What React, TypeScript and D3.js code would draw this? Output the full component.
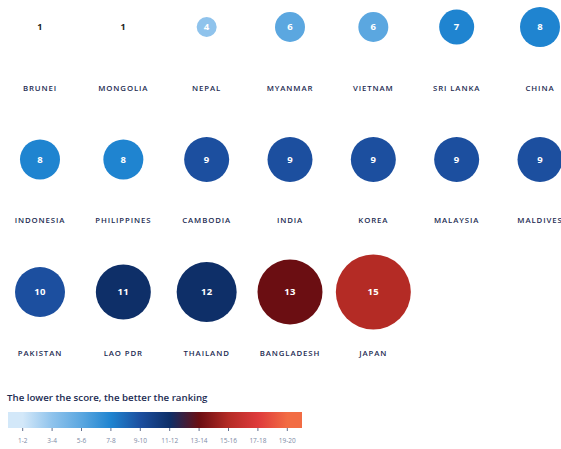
import * as d3 from "d3";

const countries = [
  "BRUNEI", "MONGOLIA", "NEPAL", "MYANMAR", "VIETNAM", "SRI LANKA", "CHINA",
  "INDONESIA", "PHILIPPINES", "CAMBODIA", "INDIA", "KOREA", "MALAYSIA", "MALDIVES",
  "PAKISTAN", "LAO PDR", "THAILAND", "BANGLADESH", "JAPAN",
];
const scores = [1, 1, 4, 6, 6, 7, 8, 8, 8, 9, 9, 9, 9, 9, 10, 11, 12, 13, 15];

const binLabels = ["1-2", "3-4", "5-6", "7-8", "9-10", "11-12", "13-14", "15-16", "17-18", "19-20"];
const binColors = [
  "#d3e8f9", "#8fc3ec", "#5ba7e0", "#1f84d0", "#1c4f9f",
  "#0e2f68", "#6b0e12", "#b42b25", "#de3a3b", "#f26c44",
];
const binEdges = [3, 5, 7, 9, 11, 13, 15, 17, 19];

const title = "The lower the score, the better the ranking";

export default function App() {
  const width = 561;
  const height = 449;
  const perRow = 7;

  const col = d3.scaleLinear().domain([0, perRow - 1]).range([40, 540]);
  const rowLabel = d3.scaleLinear().domain([0, 2]).range([88, 353]);
  const r = d3.scaleLinear().domain([0, 15]).range([0, 37.5]);
  const color = d3.scaleThreshold<number, string>().domain(binEdges).range(binColors);

  const legendX = d3.scaleBand().domain(binLabels).range([8, 302]);
  const legendY = 412;
  const legendH = 16;

  const font = "'Open Sans', 'Noto Sans', sans-serif";
  const ink = "#1c2b52";

  return (
    <svg width={width} height={height} style={{ position: "absolute", left: 0, top: 0 }}>
      <rect width={width} height={height} fill="#fff" />
      <defs>
        <linearGradient id="legend-grad" x1="0" x2="1" y1="0" y2="0">
          {binColors.map((c, i) => (
            <stop key={i} offset={`${((i + 0.5) / binColors.length) * 100}%`} stopColor={c} />
          ))}
        </linearGradient>
      </defs>
      {countries.map((name, i) => {
        const cx = col(i % perRow);
        const ly = rowLabel(Math.floor(i / perRow));
        const cy = ly - 61;
        const s = scores[i];
        const rad = r(s);
        const small = rad < 6;
        return (
          <g key={name}>
            {!small && <circle cx={cx} cy={cy} r={rad} fill={color(s)} />}
            <text
              x={cx}
              y={cy}
              dy="0.35em"
              textAnchor="middle"
              fontFamily={font}
              fontWeight={700}
              fontSize={small ? 9 : 9.5}
              letterSpacing={0.3}
              fill={small ? "#222" : "#fff"}
            >
              {s}
            </text>
            <text
              x={cx}
              y={ly}
              dy="0.35em"
              textAnchor="middle"
              fontFamily={font}
              fontWeight={600}
              fontSize={7.8}
              letterSpacing={0.9}
              fill={ink}
            >
              {name}
            </text>
          </g>
        );
      })}
      <text x={7} y={398} dy="0.35em" fontFamily={font} fontWeight={600} fontSize={9.7} fill={ink}>
        {title}
      </text>
      <rect x={legendX.range()[0]} y={legendY} width={legendX.range()[1] - legendX.range()[0]} height={legendH} fill="url(#legend-grad)" />
      {binLabels.map((b) => {
        const x = (legendX(b) ?? 0) + legendX.bandwidth() / 2;
        return (
          <g key={b}>
            <line x1={x} x2={x} y1={legendY + legendH} y2={legendY + legendH + 3} stroke="#3a4a70" strokeWidth={0.8} />
            <text x={x} y={441} dy="0.35em" textAnchor="middle" fontFamily={font} fontSize={6.5} fill="#7d8aa6">
              {b}
            </text>
          </g>
        );
      })}
    </svg>
  );
}
